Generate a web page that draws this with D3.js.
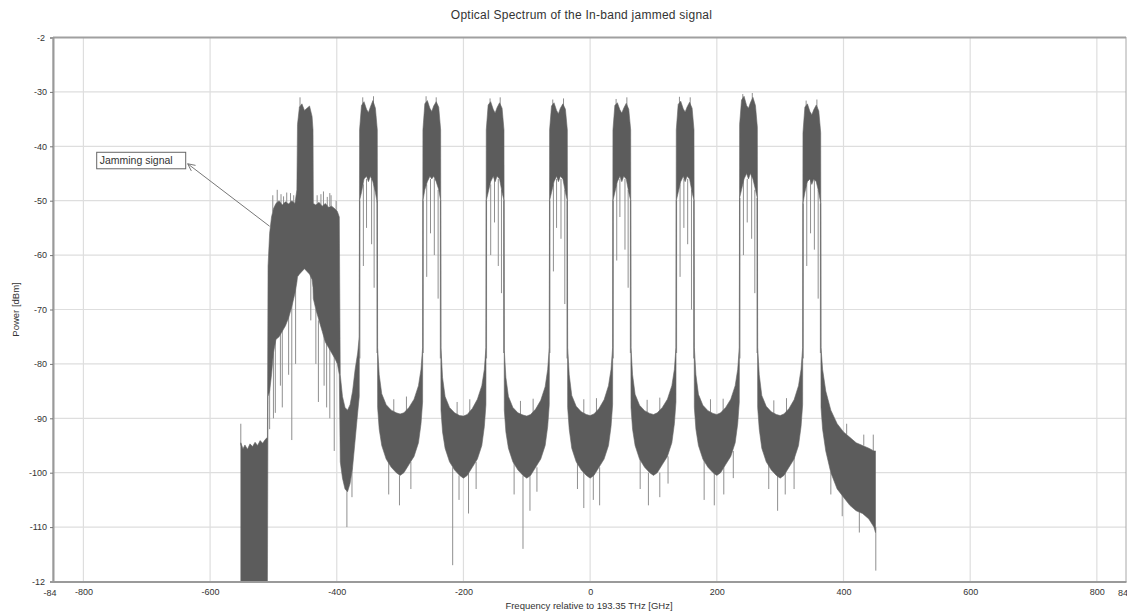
<!DOCTYPE html>
<html>
<head>
<meta charset="utf-8">
<script src="https://cdn.jsdelivr.net/npm/d3@7"></script>
<style>
  body { margin: 0; background: #fff; }
  svg text { font-family: "Liberation Sans", Arial, sans-serif; fill: #333; }
</style>
</head>
<body>
<svg id="chart" width="1127" height="613"></svg>
<script>
// ---- Axis ticks and labels ----
const xTickValues = [-800, -600, -400, -200, 0, 200, 400, 600, 800];
const yTickValues = [-30, -40, -50, -60, -70, -80, -90, -100, -110];
const xEdgeLabels = ["-84", "84"];
const yEdgeLabels = ["-2", "-12"];
const chartTitle = "Optical Spectrum of the In-band jammed signal";
const xTitle = "Frequency relative to 193.35 THz [GHz]";
const yTitle = "Power [dBm]";
const calloutText = "Jamming signal";

// ---- Spectrum envelope rows: [frequency GHz, upper dBm, lower dBm] ----
// broadband shoulder left of the jammer
const edgeBlock = [
  [-551.5, -94.5, -121], [-548, -95.6, -121], [-545, -94.9, -121], [-541, -95.7, -121],
  [-537, -94.7, -121], [-533, -95.2, -121], [-529, -94.4, -121], [-525, -95.0, -121],
  [-521, -94.1, -121], [-517, -94.6, -121], [-513, -93.9, -121], [-509.5, -93.5, -121]
];
// in-band jammer with the -450 GHz channel riding in its centre
const jammingBand = [
  [-508.5, -62, -86], [-506, -56, -85], [-503, -53, -82], [-500, -51.5, -78],
  [-496, -50.5, -75.5], [-491, -50.0, -75], [-486, -50.8, -74], [-481, -50.2, -73],
  [-476, -50.6, -71.5], [-471, -50.0, -69.5], [-466, -50.5, -67], [-463, -48, -65],
  [-462, -36, -64], [-459, -32.8, -63.5], [-455, -32.2, -63], [-451, -33.4, -62.5],
  [-447, -33.0, -63], [-443, -32.6, -63.5], [-439, -34.5, -64.5], [-437.5, -37, -66],
  [-437, -50.5, -68], [-433, -50.8, -70], [-428, -50.3, -72], [-423, -51.0, -74],
  [-418, -50.5, -76], [-413, -51.2, -77], [-408, -51.0, -78], [-403, -51.5, -79],
  [-399, -52, -80], [-396, -53, -82]
];
// eight WDM channels and the noise floor between them
const wdmBand = [
  [-394.5, -82, -98], [-391, -86, -101], [-387, -88, -103], [-383, -88.5, -103.5],
  [-379, -87.5, -102], [-375, -85, -99], [-371, -81, -94], [-367, -78, -89], [-364.5, -75, -86],
  // -350
  [-364, -37, -50], [-361, -32.5, -48.5], [-357, -31.8, -46], [-353, -33.2, -45.5], [-350, -33.8, -46.5],
  [-347, -32.8, -45.5], [-343, -31.6, -46.5], [-339, -33, -48.5], [-336, -37, -50.5],
  [-335.5, -77, -88], [-333, -82, -92], [-329, -85.5, -95], [-322, -87.5, -97.5], [-314, -88.5, -99],
  [-306, -89, -100], [-300, -89.2, -100.5], [-294, -89, -100], [-286, -88, -98.5], [-278, -86.5, -97],
  [-271, -84, -94.5], [-267, -81, -91], [-264.5, -77, -87],
  // -250
  [-264, -37, -50], [-261, -32.2, -48], [-257, -31.6, -46.5], [-253, -33, -45.5], [-250, -33.6, -46],
  [-247, -32.6, -45.5], [-243, -31.8, -46.5], [-239, -32.8, -48], [-236, -37, -50],
  [-235.5, -77, -88.5], [-233, -82.5, -92.5], [-229, -86, -95.5], [-222, -88, -98], [-214, -89, -99.5],
  [-206, -89.5, -100.5], [-200, -89.6, -101], [-194, -89.3, -100.5], [-186, -88.2, -99], [-178, -86.5, -97.5],
  [-171, -84, -95], [-167, -81, -91.5], [-164.5, -77, -87.5],
  // -150
  [-164, -37, -50], [-161, -32.4, -48.5], [-157, -31.8, -46.5], [-153, -33.2, -45.5], [-150, -33.9, -46.5],
  [-147, -32.9, -45.5], [-143, -32, -46], [-139, -33, -48.5], [-136, -37, -50],
  [-135.5, -77.5, -88.5], [-133, -82.5, -92.5], [-129, -86, -95.5], [-122, -88, -98], [-114, -89, -99.5],
  [-106, -89.4, -100.5], [-100, -89.6, -101], [-94, -89.3, -100.5], [-86, -88.3, -99], [-78, -86.7, -97.5],
  [-71, -84.2, -95], [-67, -81, -91.5], [-64.5, -77, -87.5],
  // -50
  [-64, -37, -50], [-61, -32.6, -48.5], [-57, -32, -46.5], [-53, -33.4, -45.5], [-50, -34, -46.5],
  [-47, -33, -45.5], [-43, -32.2, -46], [-39, -33.2, -48.5], [-36, -37, -50],
  [-35.5, -77, -88], [-33, -82, -92], [-29, -85.8, -95.5], [-22, -87.8, -98], [-14, -88.8, -99.5],
  [-6, -89.3, -100.5], [0, -89.5, -101], [6, -89.2, -100.5], [14, -88.2, -99], [22, -86.6, -97.5],
  [29, -84, -95], [33, -81, -91.5], [35.5, -77, -87.5],
  // 50
  [36, -37, -50], [39, -32.5, -48.5], [43, -32, -46.5], [47, -33.3, -45.5], [50, -33.9, -46.5],
  [53, -33, -45.5], [57, -32.1, -46], [61, -33.2, -48.5], [64, -37, -50],
  [64.5, -77, -88], [67, -82, -92], [71, -85.6, -95], [78, -87.6, -97.5], [86, -88.6, -99],
  [94, -89.1, -100], [100, -89.3, -100.5], [106, -89, -100], [114, -88, -98.5], [122, -86.5, -97],
  [129, -84, -94.5], [133, -81, -91], [135.5, -77, -87],
  // 150
  [136, -37, -50], [139, -32.3, -48.5], [143, -31.7, -46.5], [147, -33.1, -45.5], [150, -33.7, -46.5],
  [153, -32.8, -45.5], [157, -31.9, -46], [161, -33, -48.5], [164, -37, -50],
  [164.5, -77, -88], [167, -82, -92], [171, -85.6, -95], [178, -87.6, -97.5], [186, -88.6, -99],
  [194, -89.1, -100], [200, -89.3, -100.5], [206, -89, -100], [214, -88, -98.5], [222, -86.5, -97],
  [229, -84, -94.5], [233, -81, -91], [235.5, -77, -87],
  // 250
  [236, -36, -49.5], [239, -31.5, -48], [243, -30.8, -46], [247, -32.5, -45], [250, -33, -46],
  [253, -32, -45], [257, -31, -46], [261, -32.5, -48], [264, -36.5, -49.5],
  [264.5, -77, -88], [267, -82, -92], [271, -85.8, -95.5], [278, -87.8, -98], [286, -88.8, -99.5],
  [294, -89.3, -100.5], [300, -89.5, -101], [306, -89.2, -100.5], [314, -88.2, -99], [322, -86.6, -97.5],
  [329, -84, -95], [333, -81, -91.5], [335.5, -77, -87.5],
  // 350
  [336, -37.5, -50.5], [339, -32.8, -48.5], [343, -32.2, -46.5], [347, -33.6, -46], [350, -34.2, -47],
  [353, -33.3, -46], [357, -32.4, -46.5], [361, -33.5, -48.5], [364, -37.5, -50.5]
];
// roll-off above the last channel
const rightTail = [
  [364.5, -77, -88], [367, -81, -92], [372, -85, -96], [380, -88.5, -100], [390, -91, -103],
  [400, -92.5, -104.5], [410, -93.5, -106], [420, -94.5, -107], [430, -95, -107.5],
  [440, -95.5, -108.5], [448, -96, -110], [450.5, -96, -111]
];

// ---- Isolated noise spikes: [frequency GHz, top dBm, bottom dBm] ----
const spikes = [
  // shoulder and jammer
  [-551.5, -91, -95],
  [-506, -62, -92], [-497, -74, -89], [-489, -73, -84], [-471, -68, -94], [-465, -65, -80],
  [-441, -63, -72], [-429, -72, -87], [-420, -74, -84], [-404, -78, -96],
  [-500, -75, -90], [-486, -73, -88], [-476, -70, -82], [-433, -70, -80], [-416, -76, -88], [-411, -77, -90],
  [-494, -48, -51], [-479, -48.5, -51], [-458, -31, -33], [-421, -48.3, -51], [-409, -49, -52],
  [-501, -49, -52], [-488, -48.8, -51], [-484, -49.2, -51], [-473, -48.6, -51], [-468, -49, -51],
  [-431, -49, -51], [-425, -48.8, -51], [-415, -49.3, -51], [-411, -48.6, -51], [-401, -50, -52],
  // channel skirts and tops
  [-363.5, -50, -79], [-336.5, -50, -78], [-358, -47, -62], [-345, -46, -58], [-353, -46, -55], [-341, -47, -66],
  [-359, -31, -33], [-342, -30.8, -33],
  [-263.5, -50, -78], [-236.5, -50, -79], [-258, -47, -64], [-246, -46, -60], [-252, -46, -56], [-240, -48, -68],
  [-259, -30.8, -33], [-243, -31, -33],
  [-163.5, -50, -79], [-136.5, -50, -78], [-157, -47, -60], [-145, -46, -62], [-151, -46, -54], [-140, -48, -67],
  [-158, -31.2, -33], [-142, -31, -33],
  [-63.5, -50, -78], [-36.5, -50, -79], [-58, -47, -63], [-46, -46, -57], [-53, -46, -55], [-40, -48, -69],
  [-59, -31.4, -33], [-42, -31.2, -33],
  [36.5, -50, -79], [63.5, -50, -78], [42, -47, -61], [55, -46, -59], [47, -46, -53], [60, -48, -66],
  [41, -31.3, -33], [58, -31, -33],
  [136.5, -50, -78], [163.5, -50, -79], [142, -47, -64], [154, -46, -58], [148, -46, -55], [160, -48, -70],
  [141, -30.9, -33], [158, -31, -33],
  [236.5, -49.5, -79], [263.5, -49.5, -78], [242, -46, -60], [255, -45, -57], [248, -46, -54], [260, -48, -67],
  [241, -30.4, -32], [256, -30.2, -32],
  [336.5, -50.5, -79], [363.5, -50.5, -78], [342, -47, -62], [354, -46, -59], [348, -46, -56], [360, -48, -68],
  [341, -31.6, -33], [358, -31.4, -33],
  // noise floor
  [-384, -103, -110], [-376, -99, -104.5],
  [-318, -98, -104], [-301, -100.5, -106], [-283, -98, -103], [-310, -86.5, -89], [-290, -86, -89],
  [-217, -99, -117], [-207, -100.5, -105], [-192, -100, -107.5], [-180, -98, -103], [-210, -87, -90], [-190, -86.5, -89],
  [-120, -98, -104], [-106, -100.5, -114], [-95, -100.5, -107], [-84, -99, -103.5], [-110, -86.8, -90], [-90, -86.4, -89],
  [-20, -98, -103], [-10, -99.5, -106.5], [5, -100.5, -105], [15, -99, -106], [-10, -86.5, -89.5], [10, -86.3, -89],
  [79, -97.5, -103], [92, -100, -106], [110, -100, -104.5], [123, -97, -102], [90, -86.6, -89], [110, -86.2, -89],
  [180, -97.5, -105], [196, -100, -106], [211, -99, -104], [226, -96, -101], [190, -86.5, -89], [210, -86.4, -89],
  [282, -98, -103], [296, -100, -107], [308, -99.5, -104], [322, -97, -103], [290, -86.7, -89.5], [310, -86.3, -89],
  [380, -100, -104], [398, -104, -108], [425, -107, -111], [447, -93, -96], [451, -110, -118],
  [405, -91, -93], [432, -93, -95]
];

const spectrum = [...edgeBlock, ...jammingBand, ...wdmBand, ...rightTail];

// ---- Layout ----
const svg = d3.select("#chart");
const plotLeft = 53, plotRight = 1126, plotTop = 37.5, plotBottom = 581.5;

const x = d3.scaleLinear().domain([-848, 846]).range([plotLeft, plotRight]);
const y = d3.scaleLinear().domain([-120, -20]).range([plotBottom, plotTop]);

svg.append("defs").append("clipPath").attr("id", "plotClip")
  .append("rect").attr("x", plotLeft).attr("y", plotTop)
  .attr("width", plotRight - plotLeft).attr("height", plotBottom - plotTop);

// grid
const grid = svg.append("g").attr("stroke", "#dedede").attr("stroke-width", 1.2);
grid.selectAll("line.v").data(xTickValues).join("line").attr("class", "v")
  .attr("x1", d => x(d)).attr("x2", d => x(d)).attr("y1", plotTop).attr("y2", plotBottom);
grid.selectAll("line.h").data(yTickValues).join("line").attr("class", "h")
  .attr("x1", plotLeft).attr("x2", plotRight).attr("y1", d => y(d)).attr("y2", d => y(d));

// spectrum
const plot = svg.append("g").attr("clip-path", "url(#plotClip)");

plot.append("g").attr("stroke", "#8f8f8f").attr("stroke-width", 1)
  .selectAll("line").data(spikes).join("line")
  .attr("x1", d => x(d[0])).attr("x2", d => x(d[0]))
  .attr("y1", d => y(d[1])).attr("y2", d => y(d[2]));

const band = d3.area()
  .x(d => x(d[0]))
  .y0(d => y(d[2]))
  .y1(d => y(d[1]));

plot.append("path").datum(spectrum)
  .attr("d", band)
  .attr("fill", "#5c5c5c")
  .attr("stroke", "#666")
  .attr("stroke-width", 0.6);

// frame
svg.append("rect").attr("x", plotLeft).attr("y", plotTop)
  .attr("width", plotRight - plotLeft).attr("height", plotBottom - plotTop)
  .attr("fill", "none").attr("stroke", "#a8a8a8").attr("stroke-width", 1);
svg.append("line").attr("x1", plotLeft).attr("x2", plotRight).attr("y1", plotTop).attr("y2", plotTop)
  .attr("stroke", "#a0a0a0").attr("stroke-width", 2);

// axes
const yAxis = svg.append("g").attr("transform", `translate(${plotLeft},0)`)
  .call(d3.axisLeft(y).tickValues(yTickValues).tickSize(3).tickPadding(3).tickFormat(d => String(d)));
yAxis.select(".domain").attr("stroke", "#9a9a9a").attr("stroke-width", 2);
yAxis.selectAll(".tick line").attr("stroke", "#777");
yAxis.selectAll("text").attr("font-size", 9).attr("fill", "#333");

const xAxis = svg.append("g").attr("transform", `translate(0,${plotBottom})`)
  .call(d3.axisBottom(x).tickValues(xTickValues).tickSize(0).tickPadding(7).tickFormat(d => String(d)));
xAxis.select(".domain").attr("stroke", "#9a9a9a").attr("stroke-width", 2);
xAxis.selectAll("text").attr("font-size", 9).attr("fill", "#333");

// truncated end-of-range labels
svg.append("text").attr("x", plotLeft - 3).attr("y", plotBottom + 14).attr("text-anchor", "middle")
  .attr("font-size", 9).text(xEdgeLabels[0]);
svg.append("text").attr("x", plotRight - 8).attr("y", plotBottom + 14).attr("text-anchor", "start")
  .attr("font-size", 9).text(xEdgeLabels[1]);
svg.append("text").attr("x", plotLeft - 8).attr("y", plotTop + 3).attr("text-anchor", "end")
  .attr("font-size", 9).text(yEdgeLabels[0]);
svg.append("text").attr("x", plotLeft - 8).attr("y", plotBottom + 3).attr("text-anchor", "end")
  .attr("font-size", 9).text(yEdgeLabels[1]);

// titles
svg.append("text").attr("x", 581.5).attr("y", 19).attr("text-anchor", "middle")
  .attr("font-size", 12).attr("letter-spacing", 0.25).text(chartTitle);
svg.append("text").attr("x", 589).attr("y", 609).attr("text-anchor", "middle")
  .attr("font-size", 9.5).text(xTitle);
svg.append("text").attr("transform", "translate(19,309.5) rotate(-90)").attr("text-anchor", "middle")
  .attr("font-size", 9.5).text(yTitle);

// callout
const tip = [x(-506), y(-54.7)];
const boxX = x(-779), boxY = y(-41.1);
const callout = svg.append("g");
callout.append("rect").attr("x", boxX).attr("y", boxY).attr("width", 89).attr("height", 16.5)
  .attr("fill", "#fff").attr("stroke", "#666").attr("stroke-width", 1);
callout.append("text").attr("x", boxX + 3).attr("y", boxY + 12).attr("font-size", 10.5)
  .attr("fill", "#222").text(calloutText);
const head = [boxX + 91, boxY + 11.5];
callout.append("line").attr("x1", tip[0]).attr("y1", tip[1]).attr("x2", head[0]).attr("y2", head[1])
  .attr("stroke", "#777").attr("stroke-width", 1);
const ang = Math.atan2(tip[1] - head[1], tip[0] - head[0]);
const hl = 8, hw = 0.45;
callout.append("path")
  .attr("d", `M${head[0] + hl * Math.cos(ang - hw)},${head[1] + hl * Math.sin(ang - hw)}L${head[0]},${head[1]}L${head[0] + hl * Math.cos(ang + hw)},${head[1] + hl * Math.sin(ang + hw)}`)
  .attr("fill", "none").attr("stroke", "#777").attr("stroke-width", 1);
</script>
</body>
</html>
